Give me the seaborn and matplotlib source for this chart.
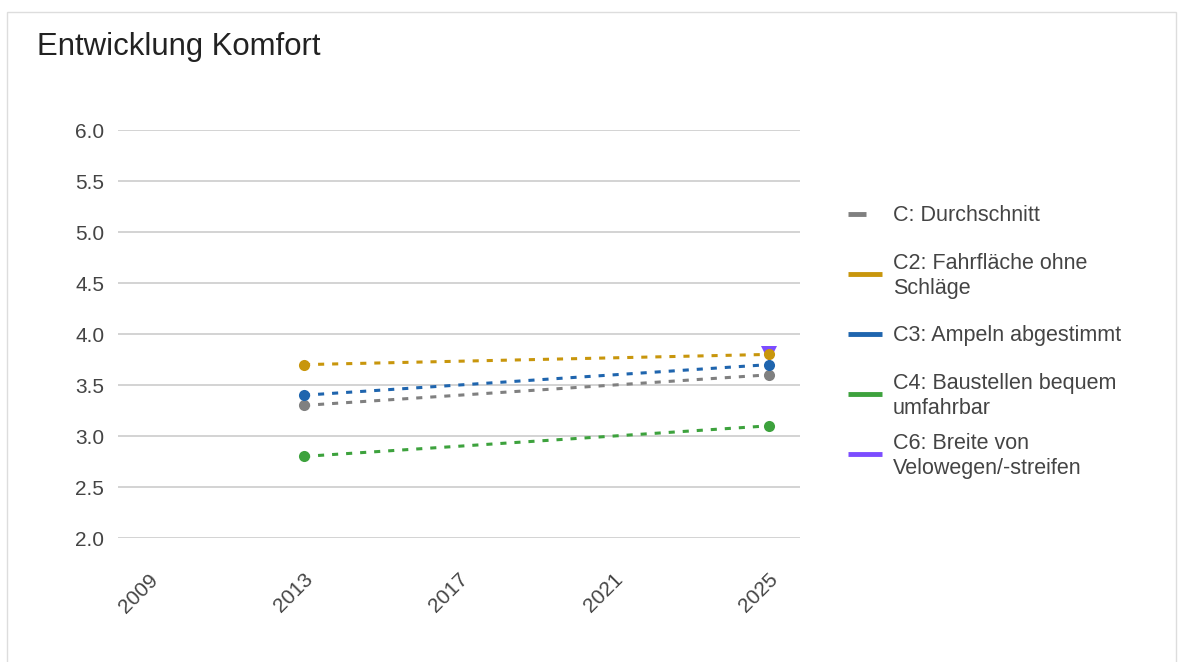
import numpy as np
import pandas as pd
import matplotlib
matplotlib.use('Agg')
import matplotlib.pyplot as plt
import matplotlib.transforms as mtransforms
import seaborn as sns
from matplotlib.lines import Line2D
from matplotlib.patches import Rectangle

# data
series = ['C: Durchschnitt', 'C2: Fahrfläche ohne Schläge', 'C3: Ampeln abgestimmt',
          'C4: Baustellen bequem umfahrbar', 'C6: Breite von Velowegen/-streifen']
legend_labels = ['C: Durchschnitt', 'C2: Fahrfläche ohne\nSchläge', 'C3: Ampeln abgestimmt',
                 'C4: Baustellen bequem\numfahrbar', 'C6: Breite von\nVelowegen/-streifen']
years_c = [2013, 2025]
values_c = [3.3, 3.6]
years_c2 = [2013, 2025]
values_c2 = [3.7, 3.8]
years_c3 = [2013, 2025]
values_c3 = [3.4, 3.7]
years_c4 = [2013, 2025]
values_c4 = [2.8, 3.1]
years_c6 = [2025]
values_c6 = [3.8]
x_ticks = [2009, 2013, 2017, 2021, 2025]
y_ticks = [2.0, 2.5, 3.0, 3.5, 4.0, 4.5, 5.0, 5.5, 6.0]

colors = ['#808080', '#C8960C', '#1F65AE', '#3DA23D', '#7C4DFF']
markers = ['o', 'o', 'o', 'o', 'v']

rows = []
for name, xs, ys in zip(series,
                        [years_c, years_c2, years_c3, years_c4, years_c6],
                        [values_c, values_c2, values_c3, values_c4, values_c6]):
    for x, y in zip(xs, ys):
        rows.append((name, x, y))
df = pd.DataFrame(rows, columns=['Serie', 'Jahr', 'Wert'])

sns.set_style('white')
plt.rcParams['font.family'] = ['Liberation Sans', 'DejaVu Sans']

W, H = 1178, 662
fig = plt.figure(figsize=(W / 100, H / 100), dpi=100)
ax = fig.add_axes([0.1002, 0.1873, 0.5789, 0.6163])

# C6 goes behind the others
zorders = [5, 6, 5, 5, 3]
for name, col, mk, z in zip(series, colors, markers, zorders):
    sub = df[df['Serie'] == name]
    sns.lineplot(data=sub, x='Jahr', y='Wert', ax=ax, color=col, linewidth=2.2,
                 linestyle=(0, (2, 2.6)), marker=mk, markersize=8 if mk == 'o' else 12,
                 markeredgewidth=0, zorder=z, legend=False)

ax.set_xlim(2008.2, 2025.8)
ax.set_ylim(2.0, 6.0)
ax.set_xticks(x_ticks)
ax.set_xticklabels([str(t) for t in x_ticks], rotation=45, ha='right', rotation_mode='anchor',
                   fontsize=15, color='#444444')
ax.set_yticks(y_ticks)
ax.set_yticklabels([f'{t:.1f}' for t in y_ticks], fontsize=15, color='#444444')
ax.tick_params(axis='y', length=0, pad=10)
ax.tick_params(axis='x', length=0, pad=23)
shift = mtransforms.ScaledTranslation(-1 / 100, 0, fig.dpi_scale_trans)
for lab in ax.get_xticklabels():
    lab.set_transform(lab.get_transform() + shift)
ax.yaxis.grid(True, color='#cccccc', linewidth=1.2)
for s in ax.spines.values():
    s.set_visible(False)
ax.set_xlabel('')
ax.set_ylabel('')

fig.text(0.031, 0.9285, 'Entwicklung Komfort', fontsize=22.4, color='#222222', va='center')

# legend with evenly spaced entries (fixed 60 px between entry centres)
for i, (lab, col) in enumerate(zip(legend_labels, colors)):
    yc = 1 - (214 + 60 * i) / H
    x_end = 866 if i == 0 else 882
    fig.add_artist(Line2D([848 / W, x_end / W], [yc, yc], color=col, linewidth=3.5,
                          solid_capstyle='butt', transform=fig.transFigure))
    fig.text(893 / W, yc - 2 / H, lab, fontsize=15.5, color='#444444', va='center', ha='left',
             linespacing=1.2)

fig.patches.append(Rectangle((0.006, -0.01), 0.992, 0.992, transform=fig.transFigure,
                             fill=False, edgecolor='#dddddd', linewidth=1))

fig.savefig('out.png', dpi=100)
